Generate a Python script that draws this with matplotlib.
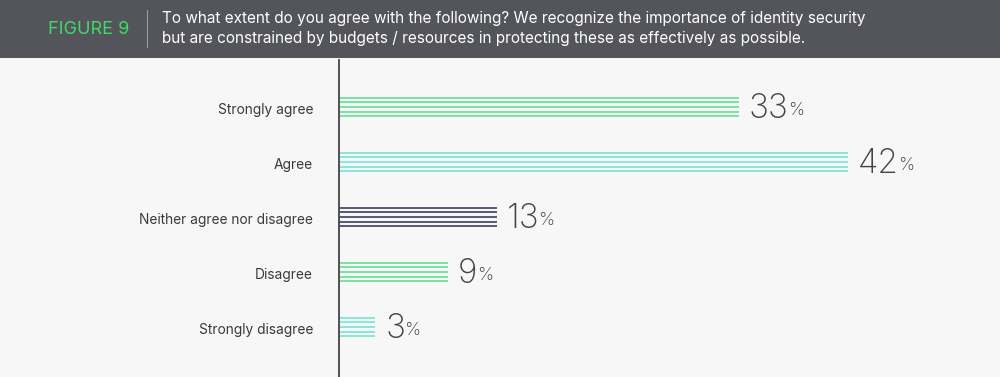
import matplotlib
matplotlib.use("Agg")
import matplotlib.pyplot as plt
from matplotlib.patches import Rectangle

categories = ["Strongly agree", "Agree", "Neither agree nor disagree", "Disagree", "Strongly disagree"]
values = [33, 42, 13, 9, 3]
colors = ["#6fe39a", "#7fe6d6", "#4b4c6b", "#6fe39a", "#7fe6d6"]

title_lines = ["To what extent do you agree with the following? We recognize the importance of identity security",
               "but are constrained by budgets / resources in protecting these as effectively as possible."]

plt.rcParams['font.family'] = ['Inter', 'DejaVu Sans']

W, H = 1000, 377
fig = plt.figure(figsize=(W / 100, H / 100), dpi=100)
fig.patch.set_facecolor("#f7f7f7")

# header band
hdr = 58
fig.patches.append(Rectangle((0, 1 - hdr / H), 1, hdr / H, transform=fig.transFigure,
                             facecolor="#54555a", edgecolor="none", zorder=0))
fig.text(129 / W, 1 - 29 / H, "FIGURE 9", color="#3ddc6a", fontsize=13, ha="right", va="center")
fig.add_artist(plt.Line2D([147 / W, 147 / W], [1 - 10 / H, 1 - 47 / H], transform=fig.transFigure,
                          color="#9a9a9e", lw=0.8))
fig.text(162 / W, 1 - 19 / H, title_lines[0], color="white", fontsize=11.05, va="center")
fig.text(162 / W, 1 - 39 / H, title_lines[1], color="white", fontsize=11.05, va="center")

# chart axes
x0 = 339
px_per = 12.12
top, step = 60, 55
ax = fig.add_axes([x0 / W, 0, 1 - x0 / W, (H - top) / H])
ax.set_facecolor("none")
ax.set_xlim(0, (W - x0) / px_per)
ax.set_ylim(4 + (H - 327) / step, -(107 - top) / step)
for s in ["top", "right", "bottom"]:
    ax.spines[s].set_visible(False)
ax.spines["left"].set_color("#444444")
ax.spines["left"].set_linewidth(1.3)
ax.set_xticks([])
ax.set_yticks([])

offsets = [-0.164, -0.082, 0, 0.082, 0.164]
for i, (cat, v, c) in enumerate(zip(categories, values, colors)):
    for o in offsets:
        ax.hlines(i + o, 0, v, color=c, lw=1.3)
    ax.text(-26 / px_per, i + 0.06, cat, ha="right", va="center", fontsize=9.9, color="#3a3a3a")
    t = ax.text(v + 10 / px_per, i + 0.03, f"{v}", ha="left", va="center", fontsize=24,
                fontweight="light", color="#444444")
    ax.annotate("%", xy=(1, 0), xycoords=t, xytext=(-0.5, 4), textcoords="offset points",
                ha="left", va="bottom", fontsize=13, fontweight="light", color="#444444")

fig.savefig("out.png", dpi=100, facecolor=fig.get_facecolor())
